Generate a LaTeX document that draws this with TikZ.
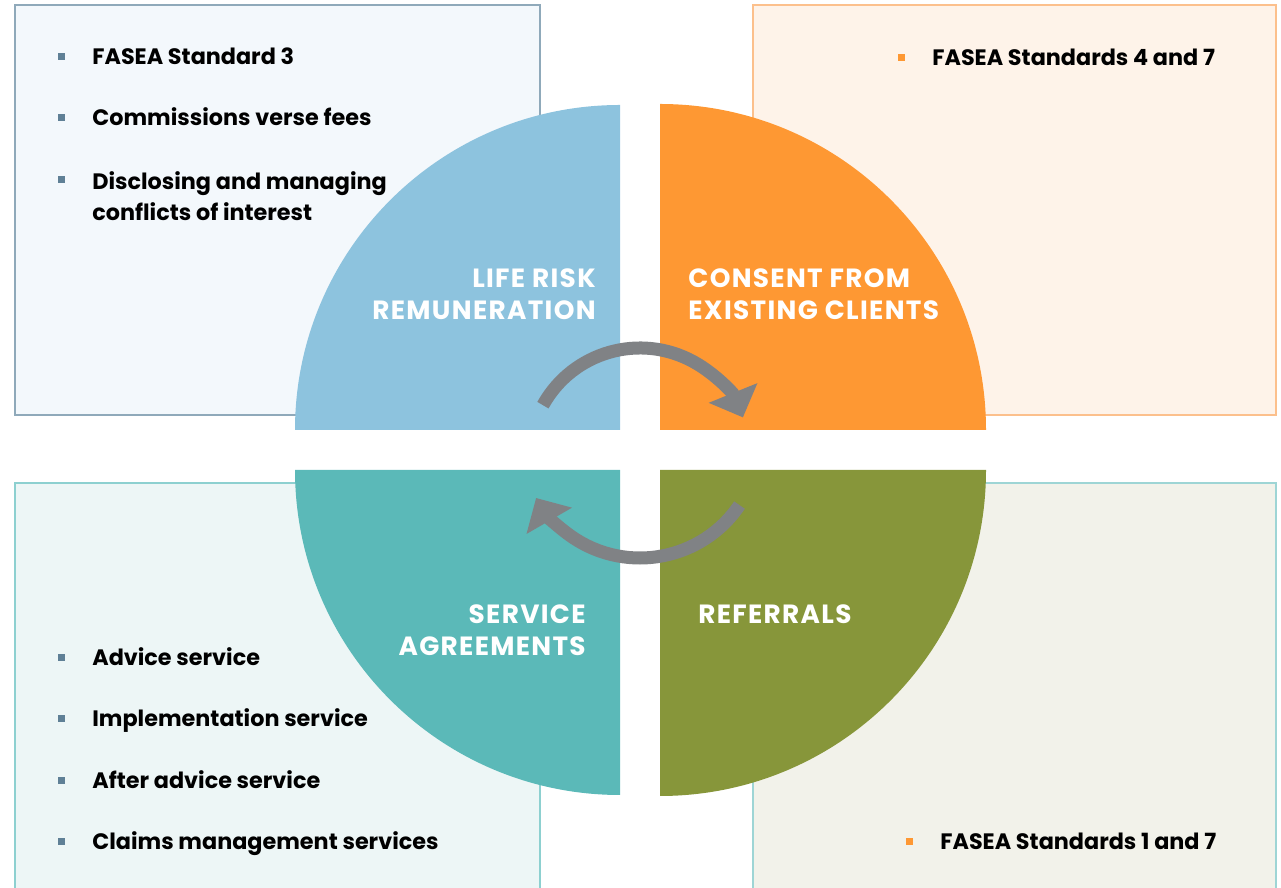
\documentclass[tikz,border=0pt]{standalone}
\usepackage{fontspec}
\setmainfont{Poppins}
\usetikzlibrary{arrows.meta, positioning}

\definecolor{riskblue}{HTML}{8DC3DE}
\definecolor{consentorange}{HTML}{FE9833}
\definecolor{serviceteal}{HTML}{5BB9B8}
\definecolor{referralolive}{HTML}{87963A}
\definecolor{loopgray}{HTML}{808285}
\definecolor{slatebullet}{HTML}{5F8096}
\definecolor{riskpanel}{HTML}{F3F8FC}
\definecolor{riskline}{HTML}{8FA9BA}
\definecolor{consentpanel}{HTML}{FEF3E9}
\definecolor{consentline}{HTML}{FCC08C}
\definecolor{servicepanel}{HTML}{EDF6F6}
\definecolor{serviceline}{HTML}{8DD0D0}
\definecolor{referralpanel}{HTML}{F2F2EA}
\definecolor{referralline}{HTML}{9ED5D5}

\begin{document}
\begin{tikzpicture}[
      x=0.02cm, y=0.02cm,
      panel/.style={line width=1pt},
      item/.style={anchor=base west, inner sep=0pt, align=left, font=\fontsize{12.7}{17.6}\selectfont\bfseries},
      sq/.style={rectangle, inner sep=0pt, minimum size=0.14cm, fill=slatebullet},
      topic/.style={inner sep=0pt, text=white, font=\fontsize{15}{18.1}\selectfont\bfseries\addfontfeatures{LetterSpace=5}},
      turn/.style={line width=7.4pt, draw=loopgray, -{Triangle[width=29pt, length=15pt]}}
    ]

    \useasboundingbox (0,0) rectangle (1281,888);

    % Panels
    \draw[panel, draw=riskline, fill=riskpanel] (15,473) rectangle (540,883);
    \draw[panel, draw=consentline, fill=consentpanel] (753,473) rectangle (1276,883);
    \draw[panel, draw=serviceline, fill=servicepanel] (15,-10) rectangle (540,405);
    \draw[panel, draw=referralline, fill=referralpanel] (753,-10) rectangle (1276,405);

    % Quadrants
    \fill[riskblue] (620,458) -- (295,458) arc[start angle=180, end angle=90, radius=325] -- cycle;
    \fill[consentorange] (660,458) -- (660,784) arc[start angle=90, end angle=0, radius=326] -- cycle;
    \fill[serviceteal] (620,418) -- (620,93) arc[start angle=270, end angle=180, radius=325] -- cycle;
    \fill[referralolive] (660,418) -- (986,418) arc[start angle=0, end angle=-90, radius=326] -- cycle;

    % Topics
    \node[topic, anchor=east, align=right] (risk) at (596,594) {LIFE RISK\\REMUNERATION};
    \node[topic, anchor=west, align=left] (consent) at (688,594) {CONSENT FROM\\EXISTING CLIENTS};
    \node[topic, anchor=east, align=right] (service) at (586,258) {SERVICE\\AGREEMENTS};
    \node[topic, anchor=west] (referrals) at (698,274) {REFERRALS};

    % Loop arrows
    \draw[turn] (640,429) ++(151:111) arc[start angle=151, end angle=22, radius=111];
    \draw[turn] (640,450) ++(-34:120) arc[start angle=-34, end angle=-150, radius=120];

    % Remuneration list
    \node[item] (fasea3) at (92,823) {FASEA Standard 3};
    \node[item] (commissions) at (92,762) {Commissions verse fees};
    \node[item, anchor=west] (conflicts) at (92,692) {Disclosing and managing\\conflicts of interest};
    \node[sq] (b1) at (61,831) {};
    \node[sq] (b2) at (61,770) {};
    \node[sq] (b3) at (61,708) {};

    % Consent list
    \node[item] (fasea47) at (932,822) {FASEA Standards 4 and 7};
    \node[sq, fill=consentorange] (b4) at (901,830) {};

    % Service list
    \node[item] (advice) at (92,222) {Advice service};
    \node[item] (implementation) at (92,161) {Implementation service};
    \node[item] (after) at (92,99) {After advice service};
    \node[item] (claims) at (92,38) {Claims management services};
    \node[sq] (b5) at (61,230) {};
    \node[sq] (b6) at (61,169) {};
    \node[sq] (b7) at (61,107) {};
    \node[sq] (b8) at (61,46) {};

    % Referrals list
    \node[item] (fasea17) at (940,38) {FASEA Standards 1 and 7};
    \node[sq, fill=consentorange] (b9) at (909,46) {};

\end{tikzpicture}
\end{document}
